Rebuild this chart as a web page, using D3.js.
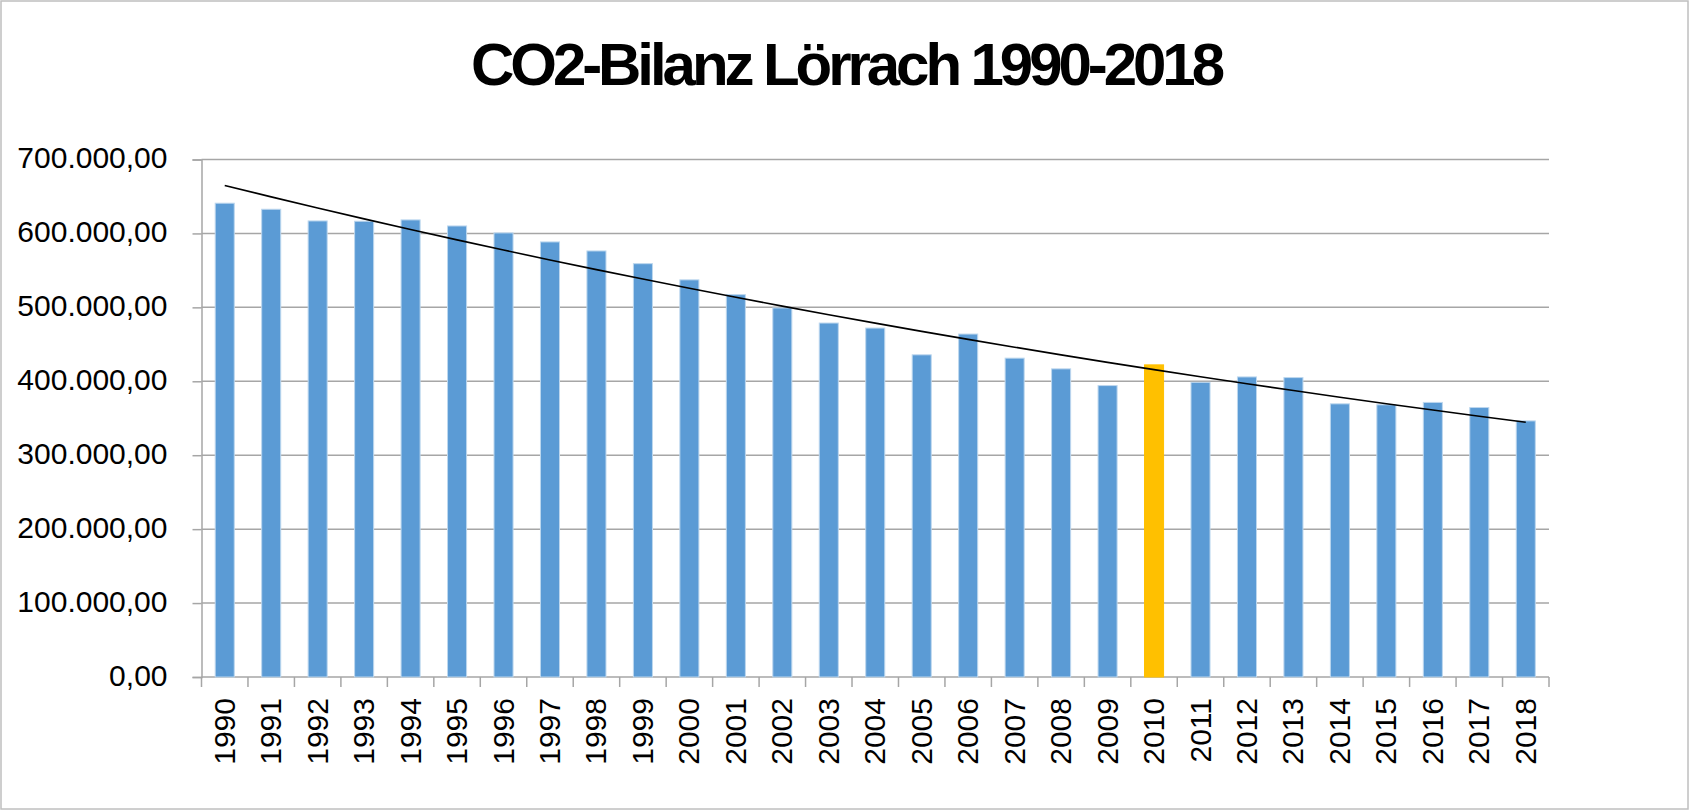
<!DOCTYPE html>
<html>
<head>
<meta charset="utf-8">
<script src="https://cdn.jsdelivr.net/npm/d3@7"></script>
<style>
  body { margin: 0; background: #fff; }
  text { font-family: "Liberation Sans", Arial, sans-serif; }
</style>
</head>
<body>
<div id="chart"></div>
<script>
var years = ["1990","1991","1992","1993","1994","1995","1996","1997","1998","1999",
             "2000","2001","2002","2003","2004","2005","2006","2007","2008","2009",
             "2010","2011","2012","2013","2014","2015","2016","2017","2018"];
var co2 = [640900, 632700, 616900, 616500, 618300, 610100, 600700, 588500, 576300, 559100,
           537200, 517200, 499200, 478800, 472000, 435800, 463900, 431300, 416800, 394200,
           422200, 398600, 405900, 405000, 369500, 368200, 371400, 364500, 346400];
var highlightYear = "2010";
var yTicks = [0, 100000, 200000, 300000, 400000, 500000, 600000, 700000];
var title = "CO2-Bilanz Lörrach 1990-2018";

var W = 1690, H = 811;
var margin = {top: 159.5, right: 141, bottom: 134, left: 201.5},
    width = W - margin.left - margin.right,
    height = H - margin.top - margin.bottom;

var de = d3.formatLocale({decimal: ",", thousands: ".", grouping: [3], currency: ["", " €"]});
var fmt = de.format(",.2f");

var root = d3.select("#chart").append("svg")
    .attr("width", W)
    .attr("height", H);

root.append("rect")
    .attr("x", 1).attr("y", 1)
    .attr("width", W - 3).attr("height", H - 3)
    .attr("fill", "#fff")
    .attr("stroke", "#bfbfbf")
    .attr("stroke-width", 1.5);

// title: normal glyphs, tight spacing
root.append("text")
    .attr("x", 848)
    .attr("y", 85)
    .attr("text-anchor", "middle")
    .attr("textLength", 754)
    .attr("lengthAdjust", "spacing")
    .style("font-size", "60px")
    .style("font-weight", "bold")
    .attr("fill", "#000")
    .text(title);

var svg = root.append("g")
    .attr("transform", "translate(" + margin.left + "," + margin.top + ")");

var x = d3.scaleBand()
  .domain(years)
  .range([0, width])
  .padding(0);

var y = d3.scaleLinear()
  .domain([0, 700000])
  .range([height, 0]);

// gridlines
svg.selectAll("grid")
  .data(yTicks)
  .enter()
  .append("line")
    .attr("x1", 0)
    .attr("x2", width)
    .attr("y1", function(d) { return y(d); })
    .attr("y2", function(d) { return y(d); })
    .attr("stroke", "#a6a6a6")
    .attr("stroke-width", 1.5);

// y axis
var yAxis = svg.append("g")
  .call(d3.axisLeft(y).tickValues(yTicks).tickSize(9).tickPadding(25).tickFormat(fmt));
yAxis.select(".domain").attr("stroke", "#a6a6a6").attr("stroke-width", 1.5);
yAxis.selectAll(".tick line").attr("stroke", "#a6a6a6").attr("stroke-width", 1.5);
yAxis.selectAll("text")
  .attr("dy", "0.28em")
  .style("font-size", "30px")
  .style("font-family", "'Liberation Sans', Arial, sans-serif")
  .attr("fill", "#000");

// x axis: ticks at band boundaries
var bounds = years.map(function(d) { return x(d); }).concat([width]);
svg.selectAll("xtick")
  .data(bounds)
  .enter()
  .append("line")
    .attr("x1", function(d) { return d; })
    .attr("x2", function(d) { return d; })
    .attr("y1", height)
    .attr("y2", height + 10)
    .attr("stroke", "#a6a6a6")
    .attr("stroke-width", 1.5);

svg.selectAll("xlabel")
  .data(years)
  .enter()
  .append("text")
    .attr("transform", function(d) {
      return "translate(" + (x(d) + x.bandwidth() / 2 + 10) + "," + (height + 21) + ")rotate(-90)";
    })
    .attr("text-anchor", "end")
    .style("font-size", "30px")
    .attr("fill", "#000")
    .text(function(d) { return d; });

// bars
var barW = x.bandwidth() * 0.41;
svg.selectAll("bar")
  .data(years)
  .enter()
  .append("rect")
    .attr("x", function(d) { return x(d) + (x.bandwidth() - barW) / 2; })
    .attr("y", function(d, i) { return y(co2[i]); })
    .attr("width", barW)
    .attr("height", function(d, i) { return height - y(co2[i]); })
    .attr("fill", function(d) { return d === highlightYear ? "#ffc000" : "#5b9bd5"; })
    .attr("stroke", function(d) { return d === highlightYear ? "#ffc000" : "#bdd7ee"; })
    .attr("stroke-width", 1);

// exponential trend line (least squares on ln values)
var n = co2.length, sx = 0, sy = 0, sxx = 0, sxy = 0;
co2.forEach(function(v, i) {
  var ly = Math.log(v);
  sx += i; sy += ly; sxx += i * i; sxy += i * ly;
});
var b = (n * sxy - sx * sy) / (n * sxx - sx * sx);
var a = (sy - b * sx) / n;
var trend = years.map(function(d, i) { return [d, Math.exp(a + b * i)]; });

svg.append("path")
  .datum(trend)
  .attr("fill", "none")
  .attr("stroke", "#000")
  .attr("stroke-width", 1.6)
  .attr("d", d3.line()
    .x(function(d) { return x(d[0]) + x.bandwidth() / 2; })
    .y(function(d) { return y(d[1]); }));
</script>
</body>
</html>
